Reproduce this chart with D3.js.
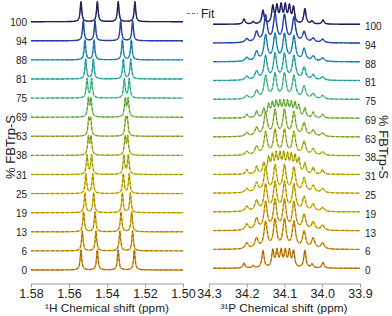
<!DOCTYPE html>
<html>
<head>
<meta charset="utf-8">
<script src="https://cdn.jsdelivr.net/npm/d3@7"></script>
<style>
  body { margin: 0; background: #fff; }
  text { font-family: "Liberation Sans", Arial, sans-serif; fill: #222; }
</style>
</head>
<body>
<div id="chart"></div>
<script>
// % FBTrp-S for each stacked spectrum, top to bottom
var labels = ["100", "94", "88", "81", "75", "69", "63", "38", "31", "25", "19", "13", "6", "0"];
var colors = ["#15156a", "#1e45c8", "#1a9ad0", "#2ec6c6", "#52dc9e", "#80d850", "#a2d03c", "#bed02a",
  "#d6d010", "#e4cc00", "#ecc000", "#ecb000", "#e8a000", "#e08a00"];

// 1H peak positions (ppm) per spectrum
var hShift = [
  [1.5537, 1.5451, 1.5341, 1.5253],
  [1.5525, 1.5463, 1.5328, 1.5265],
  [1.5516, 1.5468, 1.5319, 1.5272],
  [1.5512, 1.5472, 1.5314, 1.5275],
  [1.5505, 1.5481, 1.5309, 1.5283],
  [1.5498, 1.5484, 1.5304, 1.5289],
  [1.5496, 1.5486, 1.5302, 1.5293],
  [1.5498, 1.5484, 1.5305, 1.5291],
  [1.5505, 1.5481, 1.5311, 1.5288],
  [1.5511, 1.5475, 1.5314, 1.5283],
  [1.5516, 1.5470, 1.5319, 1.5277],
  [1.5523, 1.5463, 1.5326, 1.5270],
  [1.5530, 1.5458, 1.5332, 1.5265],
  [1.5537, 1.5451, 1.5341, 1.5256]
];
var hWidth = 0.0005;

// 31P multiplet line positions (ppm) and half widths
var pSplit = [34.207, 34.183, 34.157, 34.131, 34.120, 34.109, 34.098, 34.087, 34.076, 34.046, 34.027, 33.998];
var pRegular = [34.200, 34.174, 34.150, 34.125, 34.100, 34.075, 34.048, 34.024, 33.999];
var pFine = [34.200, 34.174, 34.155, 34.142, 34.132, 34.122, 34.112, 34.102, 34.092, 34.082, 34.072, 34.062, 34.046, 34.024, 33.999];
var pWidths = { split: 0.0035, regular: 0.0052, fine: 0.0035 };
var pPattern = ["split", "regular", "regular", "regular", "regular", "fine", "regular", "regular",
  "fine", "regular", "regular", "regular", "regular", "split"];
var pAmp = [
  [0.27, 0.12, 0.72, 0.9, 0.88, 0.92, 0.92, 0.88, 0.85, 0.8, 0.15, 0.22],
  [0.2, 0.55, 1.4, 1.45, 1.4, 1.3, 0.55, 0.22, 0.18],
  [0.2, 0.5, 1.35, 1.4, 1.4, 1.3, 0.65, 0.27, 0.18],
  [0.2, 0.45, 1.25, 1.35, 1.35, 1.25, 0.65, 0.27, 0.18],
  [0.18, 0.42, 1.2, 1.3, 1.3, 1.2, 0.65, 0.27, 0.18],
  [0.2, 0.35, 0.45, 0.65, 0.7, 0.75, 0.75, 0.75, 0.75, 0.7, 0.7, 0.6, 0.5, 0.3, 0.2],
  [0.2, 0.45, 1.25, 1.35, 1.35, 1.25, 0.7, 0.32, 0.18],
  [0.2, 0.45, 1.2, 1.3, 1.3, 1.2, 0.7, 0.32, 0.18],
  [0.25, 0.4, 0.55, 0.8, 0.9, 0.95, 0.95, 0.95, 0.9, 0.9, 0.85, 0.75, 0.55, 0.35, 0.25],
  [0.22, 0.5, 1.3, 1.4, 1.4, 1.3, 0.75, 0.37, 0.22],
  [0.27, 0.55, 1.4, 1.5, 1.5, 1.4, 0.75, 0.37, 0.22],
  [0.32, 0.6, 1.45, 1.55, 1.55, 1.45, 0.8, 0.42, 0.27],
  [0.32, 0.55, 1.4, 1.5, 1.5, 1.4, 0.9, 0.55, 0.32],
  [0.27, 0.12, 0.92, 0.9, 0.85, 0.85, 0.85, 0.85, 0.85, 0.92, 0.2, 0.3]
];

var hTicks = [1.58, 1.56, 1.54, 1.52, 1.50];
var pTicks = [34.3, 34.2, 34.1, 34.0, 33.9];

var width = 392, height = 316, axisY = 283.5;

var svg = d3.select("#chart").append("svg")
  .attr("width", width).attr("height", height);

var xH = d3.scaleLinear().domain([1.58, 1.50]).range([31, 183]);
var xP = d3.scaleLinear().domain([34.3, 33.9]).range([209, 360]);
var rowH = d3.scalePoint().domain(labels).range([21.7, 270]);
var rowP = d3.scalePoint().domain(labels).range([24.3, 268.3]);
var ampH = d3.scaleLinear().domain([0, 1]).range([0, 20]);
var ampP = d3.scaleLinear().domain([0, 1]).range([0, 18.8]);

function lorentz(lines, amps, gamma, from, to, step) {
  var pts = [];
  for (var v = from; v >= to - 1e-9; v -= step) {
    var s = 0;
    lines.forEach(function (c, k) {
      var t = (v - c) / gamma;
      s += (amps ? amps[k] : 1) / (1 + t * t);
    });
    pts.push([v, s]);
  }
  return pts;
}

function drawTrace(g, pts, xs, y0, amp, color) {
  var line = d3.line()
    .x(function (d) { return xs(d[0]); })
    .y(function (d) { return y0 - amp(d[1]); });
  g.append("path").datum(pts)
    .attr("fill", "none").attr("stroke", color)
    .attr("stroke-width", 1.4).attr("stroke-linejoin", "round")
    .attr("d", line);
  // fit overlay
  g.append("path").datum(pts)
    .attr("fill", "none").attr("stroke", "#3c3c3c")
    .attr("stroke-opacity", 0.55).attr("stroke-width", 1)
    .attr("stroke-dasharray", "3,2")
    .attr("d", line);
}

var gH = svg.append("g"), gP = svg.append("g");

labels.forEach(function (lab, i) {
  var hp = lorentz(hShift[i], null, hWidth, 1.58, 1.50, 0.0001);
  var mx = d3.max(hp, function (d) { return d[1]; });
  hp.forEach(function (d) { d[1] = d[1] / mx; });
  drawTrace(gH, hp, xH, rowH(lab), ampH, colors[i]);

  var pat = pPattern[i];
  var lines = pat === "split" ? pSplit : pat === "fine" ? pFine : pRegular;
  var pp = lorentz(lines, pAmp[i], pWidths[pat], 34.289, 33.9, 0.0005);
  drawTrace(gP, pp, xP, rowP(lab), ampP, colors[i]);
});

// row labels
svg.append("g").selectAll("text").data(labels).enter().append("text")
  .attr("x", 27).attr("y", function (d) { return rowH(d) + 4; })
  .attr("text-anchor", "end").attr("font-size", "10px")
  .text(function (d) { return d; });
svg.append("g").selectAll("text").data(labels).enter().append("text")
  .attr("x", 365).attr("y", function (d) { return rowP(d) + 5.8; })
  .attr("text-anchor", "start").attr("font-size", "10px")
  .text(function (d) { return d; });

// x axes
function styleAxis(g) {
  g.select(".domain").attr("stroke", "#9c9cc0");
  g.selectAll(".tick line").attr("stroke", "#9c9cc0");
  g.selectAll(".tick text").attr("font-size", "12.5px").attr("fill", "#222")
    .attr("font-family", "Liberation Sans, Arial, sans-serif");
}
svg.append("g").attr("transform", "translate(0," + axisY + ")")
  .call(d3.axisBottom(xH).tickValues(hTicks).tickFormat(d3.format(".2f")).tickSizeInner(4).tickSizeOuter(0).tickPadding(2))
  .call(styleAxis);
svg.append("g").attr("transform", "translate(0," + axisY + ")")
  .call(d3.axisBottom(xP).tickValues(pTicks).tickFormat(d3.format(".1f")).tickSizeInner(4).tickSizeOuter(0).tickPadding(2))
  .call(styleAxis);

// axis titles
svg.append("text").attr("x", 107).attr("y", 311.5).attr("text-anchor", "middle")
  .attr("font-size", "11.8px").text("\u00b9H Chemical shift (ppm)");
svg.append("text").attr("x", 284).attr("y", 311.5).attr("text-anchor", "middle")
  .attr("font-size", "11.8px").text("\u00b3\u00b9P Chemical shift (ppm)");
svg.append("text").attr("transform", "translate(15,147) rotate(-90)")
  .attr("text-anchor", "middle").attr("font-size", "13px").text("% FBTrp-S");
svg.append("text").attr("transform", "translate(379,147) rotate(90)")
  .attr("text-anchor", "middle").attr("font-size", "13px").text("% FBTrp-S");

// legend
svg.append("line").attr("x1", 187).attr("x2", 198).attr("y1", 13.5).attr("y2", 13.5)
  .attr("stroke", "#777").attr("stroke-width", 1).attr("stroke-dasharray", "3,2");
svg.append("text").attr("x", 201).attr("y", 18).attr("font-size", "12px").text("Fit");
</script>
</body>
</html>
